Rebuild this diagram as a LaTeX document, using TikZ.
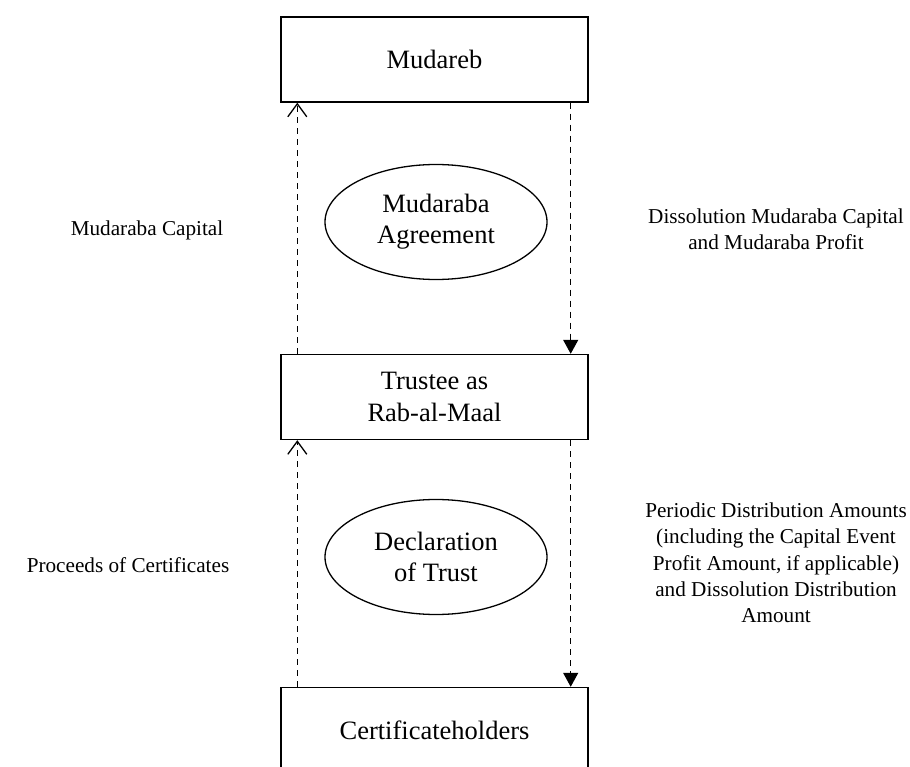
\documentclass[tikz,border=0pt]{standalone}
\usepackage{fontspec}
\setmainfont{Liberation Serif}
\usetikzlibrary{arrows.meta,shapes.geometric}

\begin{document}
\begin{tikzpicture}[x=1pt, y=-1pt,
    party/.style={draw, line width=1.4pt, minimum width=307pt, minimum height=85pt,
        align=center, font=\fontsize{26.5}{32}\selectfont},
    deal/.style={draw, ellipse, line width=1.3pt, minimum width=222pt, minimum height=115pt,
        inner sep=0pt, align=center, font=\fontsize{26.5}{31}\selectfont},
    note/.style={align=center, font=\fontsize{21.2}{26.3}\selectfont},
    pay/.style={line width=1.3pt, dash pattern=on 6pt off 5pt,
        -{Straight Barb[length=13pt, width=19pt, line width=1.3pt]}},
    back/.style={line width=1.3pt, dash pattern=on 6pt off 5pt,
        -{Triangle[length=14pt, width=15pt]}}]
    \useasboundingbox (0, 0) rectangle (910, 767);

    \node[party] (M) at (434.5, 59.5) {Mudareb};
    \node[party] (T) at (434.5, 397) {Trustee as\\Rab-al-Maal};
    \node[party] (C) at (434.5, 730) {Certificateholders};

    \node[deal] (MA) at (436, 222) {Mudaraba\\Agreement};
    \node[deal] (DT) at (436, 557) {Declaration\\of Trust};

    \node[note] (capital) at (147, 230) {Mudaraba Capital};
    \node[note] (profit) at (776, 229) {Dissolution Mudaraba Capital\\and Mudaraba Profit};
    \node[note] (proceeds) at (128, 565) {Proceeds of Certificates};
    \node[note] (amounts) at (776, 563) {Periodic Distribution Amounts\\(including the Capital Event\\Profit Amount, if applicable)\\and Dissolution Distribution\\Amount};

    \draw[pay] ([xshift=17pt]T.north west) to ([xshift=17pt]M.south west);
    \draw[back] ([xshift=-18pt]M.south east) to ([xshift=-18pt]T.north east);
    \draw[pay] ([xshift=17pt]C.north west) to ([xshift=17pt]T.south west);
    \draw[back] ([xshift=-18pt]T.south east) to ([xshift=-18pt]C.north east);

\end{tikzpicture}
\end{document}
